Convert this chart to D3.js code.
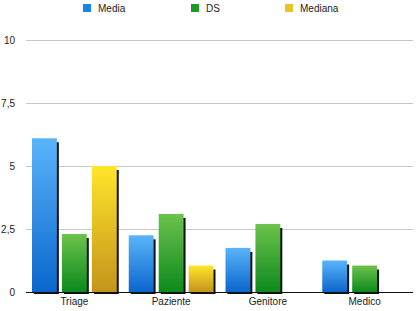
<!DOCTYPE html>
<html>
<head>
<meta charset="utf-8">
<script src="https://cdn.jsdelivr.net/npm/d3@7"></script>
<style>
  body { margin: 0; background: #fff; }
  text { font-family: "Liberation Sans", Arial, sans-serif; }
</style>
</head>
<body>
<svg id="chart" width="416" height="311"></svg>
<script>
const categories = ["Triage", "Paziente", "Genitore", "Medico"];
const seriesNames = ["Media", "DS", "Mediana"];
const media = [6.1, 2.25, 1.75, 1.25];
const ds = [2.3, 3.1, 2.7, 1.05];
const mediana = [5.0, 1.05, 0, 0];
const yTicks = [0, 2.5, 5, 7.5, 10];

const seriesValues = [media, ds, mediana];
const gradients = [
  ["#5ab4fa", "#0a66cc"],
  ["#6cc24c", "#0c8a1c"],
  ["#ffe62a", "#c4931c"]
];
const legendColors = ["#1a84e6", "#1e9a2a", "#e8c420"];

const width = 416, height = 311;
const margin = {top: 40, right: 3, bottom: 19, left: 26};

const svg = d3.select("#chart");
const defs = svg.append("defs");
gradients.forEach((g, i) => {
  const lg = defs.append("linearGradient")
    .attr("id", "grad" + i)
    .attr("x1", 0).attr("y1", 0).attr("x2", 0).attr("y2", 1);
  lg.append("stop").attr("offset", "0%").attr("stop-color", g[0]);
  lg.append("stop").attr("offset", "100%").attr("stop-color", g[1]);
});

const x = d3.scaleBand()
  .domain(categories)
  .range([margin.left, width - margin.right]);

const x1 = d3.scaleBand()
  .domain(d3.range(seriesNames.length))
  .range([6, x.bandwidth() - 6])
  .paddingInner(0.17);

const y = d3.scaleLinear()
  .domain([0, 10])
  .range([height - margin.bottom, margin.top]);

// gridlines
svg.append("g")
  .selectAll("line")
  .data(yTicks.filter(t => t > 0))
  .enter().append("line")
  .attr("x1", margin.left)
  .attr("x2", width - margin.right)
  .attr("y1", d => Math.round(y(d)) + 0.5)
  .attr("y2", d => Math.round(y(d)) + 0.5)
  .attr("stroke", "#c8c8c8")
  .attr("stroke-width", 1);

// y tick labels
svg.append("g")
  .selectAll("text")
  .data(yTicks)
  .enter().append("text")
  .attr("x", 15)
  .attr("y", d => y(d) + 4)
  .attr("text-anchor", "end")
  .attr("font-size", 10)
  .attr("fill", "#222")
  .text(d => String(d).replace(".", ","));

// bars
const rows = [];
categories.forEach((c, ci) => {
  seriesValues.forEach((vals, si) => {
    if (vals[ci] > 0) rows.push({cat: c, s: si, v: vals[ci]});
  });
});

const bars = svg.append("g")
  .selectAll("g")
  .data(rows)
  .enter().append("g")
  .attr("transform", d => `translate(${x(d.cat) + x1(d.s)},0)`);

// shadow
bars.append("rect")
  .attr("x", 2)
  .attr("y", d => y(d.v) + 4)
  .attr("width", x1.bandwidth())
  .attr("height", d => y(0) - y(d.v) - 2)
  .attr("fill", "#111");

bars.append("rect")
  .attr("x", 0)
  .attr("y", d => y(d.v))
  .attr("width", x1.bandwidth())
  .attr("height", d => y(0) - y(d.v))
  .attr("fill", d => `url(#grad${d.s})`);

// baseline
svg.append("line")
  .attr("x1", margin.left)
  .attr("x2", width - margin.right)
  .attr("y1", y(0) + 0.5)
  .attr("y2", y(0) + 0.5)
  .attr("stroke", "#111")
  .attr("stroke-width", 1.2);

// category labels
svg.append("g")
  .selectAll("text")
  .data(categories)
  .enter().append("text")
  .attr("x", d => x(d) + x.bandwidth() / 2)
  .attr("y", height - 6)
  .attr("text-anchor", "middle")
  .attr("font-size", 10)
  .attr("fill", "#222")
  .text(d => d);

// legend
const legendX = [83, 191, 285];
const legend = svg.append("g")
  .selectAll("g")
  .data(seriesNames)
  .enter().append("g")
  .attr("transform", (d, i) => `translate(${legendX[i]},4)`);

legend.append("rect")
  .attr("width", 8)
  .attr("height", 8)
  .attr("fill", (d, i) => legendColors[i]);

legend.append("text")
  .attr("x", 15)
  .attr("y", 8)
  .attr("font-size", 10)
  .attr("fill", "#222")
  .text(d => d);
</script>
</body>
</html>
